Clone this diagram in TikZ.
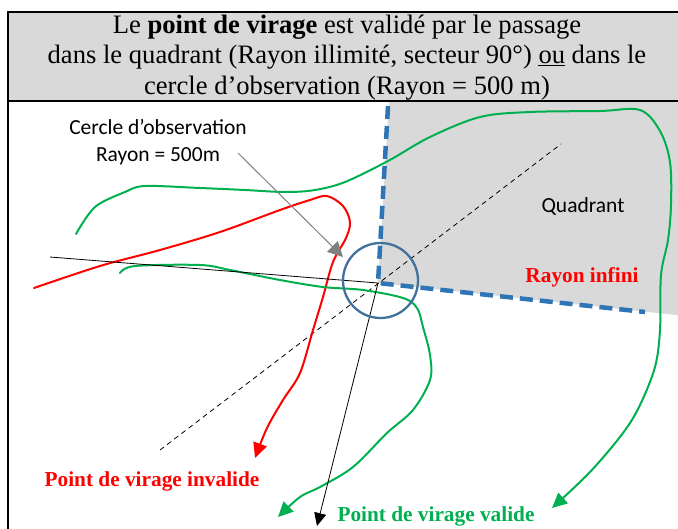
\documentclass[tikz,border=0pt]{standalone}
\usepackage{fontspec}
\setmainfont{Liberation Serif}
\newfontfamily\calib{Carlito}
\usetikzlibrary{arrows.meta}
\definecolor{vgreen}{HTML}{00B050}
\definecolor{vred}{HTML}{FF0000}
\definecolor{qblue}{HTML}{2E75B6}
\definecolor{cblue}{HTML}{41719C}
\definecolor{qgray}{HTML}{D9D9D9}
\definecolor{agray}{HTML}{808080}
\begin{document}
\begin{tikzpicture}[x=1pt,y=-1pt,
  track/.style={line width=2pt, line join=round, line cap=round},
  greentrack/.style={track, draw=vgreen, -{Triangle[length=15pt,width=14pt]}},
  redtrack/.style={track, draw=vred, -{Triangle[length=15pt,width=14pt]}},
  quadedge/.style={draw=qblue, line width=4.5pt, dash pattern=on 13pt off 7pt},
  bisector/.style={draw=black, line width=0.8pt, dash pattern=on 5pt off 4pt},
  lbl/.style={inner sep=0pt, anchor=center},
  boldlbl/.style={lbl, font=\fontsize{21.3}{25}\selectfont\bfseries},
  sanslbl/.style={lbl, font=\calib\fontsize{21.5}{27}\selectfont, align=center}]
\useasboundingbox (0,0) rectangle (678,528);
\clip (0,0) rectangle (678,528);
% header
\fill[qgray] (8,12) rectangle (690,101);
\draw[line width=2pt] (690,12) -- (8,12) -- (8,540);
\draw[line width=2pt] (8,101) -- (690,101);
\node[lbl, align=center, font=\fontsize{26.6}{30.5}\selectfont] (title) at (347,57.5)
 {Le \textbf{point de virage} est validé par le passage\\
  dans le quadrant (Rayon illimité, secteur 90°) \underline{ou} dans le\\
  cercle d’observation (Rayon = 500 m)};
% quadrant
\coordinate (V) at (378,283);
\coordinate (qtop) at (388,106);
\coordinate (qright) at (645,312);
\fill[qgray] (389,102) -- (690,102) -- (690,316.5) -- (V) -- cycle;
\node[sanslbl] (quad) at (583,206) {Quadrant};
\node[boldlbl, text=vred] (rinf) at (582,277) {Rayon infini};
% bisector
\coordinate (b1) at (160,450);
\coordinate (b2) at (561,144);
\draw[bisector] (b1) -- (b2);
% green top track
\draw[greentrack] plot[smooth, tension=0.55] coordinates {(76,234) (95,207) (125,192) (145,186) (200,188) (245,190) (285,192) (315,190) (345,182) (388,161) (430,137) (480,117) (530,112) (600,111) (640,110) (660,131) (670,162) (671,205) (668,240) (661,275) (660,330) (655,367) (640,405) (623,433) (590,472) (552,508)};
% red track
\draw[redtrack] plot[smooth, tension=0.55] coordinates {(34,288) (100,266) (160,250) (220,232) (280,210) (310,200) (327,196) (343,206) (350,222) (346,238) (333,262) (323,297) (313,330) (300,373) (283,400) (267,428) (255,458)};
% green lower track
\draw[greentrack] plot[smooth, tension=0.55] coordinates {(120,273) (135,266) (200,265) (230,270) (280,280) (323,287) (363,290) (403,298) (417,308) (423,327) (430,355) (430,380) (413,410) (387,433) (353,467) (320,487) (300,497) (278,517)};
% black route line
\coordinate (l1) at (50,257);
\coordinate (ldown) at (317,526);
\draw[line width=0.8pt, line join=miter, -{Triangle[length=13pt,width=12pt]}] (l1) -- (V) -- (ldown);
% quadrant edges
\draw[quadedge] (qtop) -- (V) -- (qright);
% observation circle
\node[draw=cblue, line width=2.3pt, circle, minimum size=75pt, inner sep=0pt] (circ) at (380.5,280.5) {};
% callout
\node[sanslbl] (cercle) at (158,142) {Cercle d’observation\\Rayon = 500m};
\coordinate (cstart) at (238,153);
\draw[draw=agray, line width=1pt, -{Triangle[length=15pt,width=15pt]}, color=agray] (cstart) -- (343,257);
% bottom labels
\node[boldlbl, text=vred] (inval) at (152,481) {Point de virage invalide};
\node[boldlbl, text=vgreen] (val) at (436,516) {Point de virage valide};
\end{tikzpicture}
\end{document}
